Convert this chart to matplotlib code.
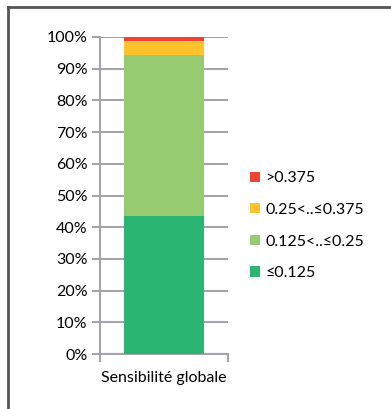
import matplotlib.pyplot as plt
from matplotlib.lines import Line2D

plt.rcParams["font.family"] = ["Lato", "DejaVu Sans"]

categories = ["Sensibilité globale"]
labels = ["≤0.125", "0.125<..≤0.25", "0.25<..≤0.375", ">0.375"]
values = [43.6, 50.8, 4.4, 1.2]
colors = ["#2BB573", "#96CB72", "#FEC22D", "#EE4232"]

fig = plt.figure(figsize=(3.91, 4.09), dpi=100)
ax = fig.add_axes([100 / 391, 1 - 354 / 409, 128 / 391, 317 / 409])

grid_c = "#A3A3AA"
bottom = 0
handles = []
for lab, val, col in zip(labels, values, colors):
    b = ax.bar(categories, [val], bottom=bottom, width=0.63, color=col, label=lab, zorder=3)
    bottom += val
    handles.append(b)

ax.set_xlim(-0.5, 0.5)
ax.set_ylim(0, 100)
ax.set_yticks(range(0, 101, 10))
ax.set_yticklabels([f"{t}%" for t in range(0, 101, 10)])
ax.yaxis.grid(True, color=grid_c, linewidth=1.5, zorder=0)
for s in ["top", "right"]:
    ax.spines[s].set_visible(False)
for s in ["left", "bottom"]:
    ax.spines[s].set_color(grid_c)
    ax.spines[s].set_linewidth(1.5)
ax.tick_params(axis="y", colors=grid_c, length=6, width=1.5, labelcolor="black", labelsize=11.5, pad=3)
ax.tick_params(axis="x", length=0, labelsize=11.5, pad=12)
# end ticks on the category axis
for x in (-0.5, 0.5):
    ax.plot([x, x], [0, -2.2], color=grid_c, lw=1.5, clip_on=False, zorder=4)

leg = fig.legend(handles[::-1], labels[::-1], loc="upper left",
                 bbox_to_anchor=(236 / 391, 1 - 157 / 409), frameon=False,
                 fontsize=11.5, handlelength=0.6, handleheight=0.6,
                 handletextpad=0.35, labelspacing=1.1)

# outer frame lines (left and top)
fig.add_artist(Line2D([8 / 391, 8 / 391], [0, 1 - 7 / 409], color="#555555", lw=2,
                      transform=fig.transFigure))
fig.add_artist(Line2D([8 / 391, 1], [1 - 7 / 409, 1 - 7 / 409], color="#555555", lw=2,
                      transform=fig.transFigure))

fig.savefig("out.png", dpi=100)
